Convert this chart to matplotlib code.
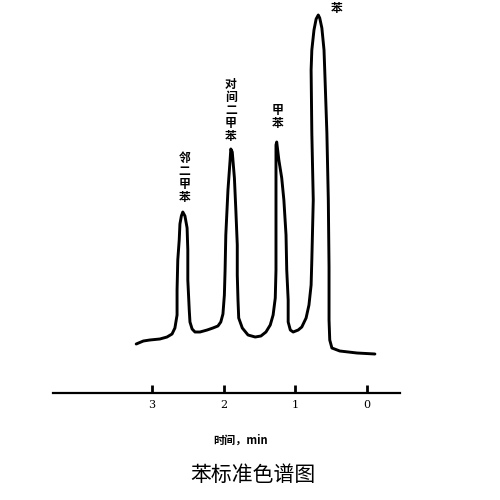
import matplotlib
matplotlib.use("Agg")
import matplotlib.pyplot as plt

plt.rcParams['font.family'] = ['Noto Sans CJK SC', 'DejaVu Sans']

# retention time (min) and detector signal (arbitrary units)
time_min = [3.22, 3.12, 3.03, 2.89, 2.79, 2.72, 2.68, 2.65, 2.65, 2.64,
            2.62, 2.61, 2.59, 2.57, 2.54, 2.51, 2.50, 2.50, 2.48, 2.47,
            2.44, 2.40, 2.33, 2.23, 2.15, 2.08, 2.04, 2.01, 1.99, 1.98,
            1.97, 1.94, 1.91, 1.90, 1.88, 1.85, 1.83, 1.81, 1.81, 1.80,
            1.79, 1.74, 1.66, 1.56, 1.48, 1.41, 1.35, 1.31, 1.28, 1.27,
            1.27, 1.27, 1.27, 1.26, 1.23, 1.19, 1.16, 1.13, 1.12, 1.10,
            1.10, 1.07, 1.03, 0.96, 0.91, 0.85, 0.81, 0.78, 0.77, 0.75,
            0.77, 0.78, 0.77, 0.74, 0.71, 0.68, 0.66, 0.63, 0.60, 0.59,
            0.56, 0.54, 0.53, 0.53, 0.52, 0.49, 0.38, 0.14, -0.11]
signal = [16, 19, 20, 21, 23, 26, 32, 45, 70, 100,
          120, 136, 144, 148, 144, 132, 110, 80, 50, 38,
          31, 28, 28, 30, 32, 34, 38, 46, 65, 90,
          125, 170, 200, 211, 208, 182, 150, 115, 85, 60,
          42, 32, 25, 23, 24, 28, 35, 45, 62, 90,
          140, 190, 215, 218, 200, 182, 160, 125, 90, 60,
          38, 30, 28, 30, 33, 42, 55, 75, 100, 160,
          227, 290, 310, 330, 341, 345, 342, 332, 310, 290,
          227, 160, 93, 40, 20, 12, 9, 7, 6]

# peaks: name, retention time, height
peak_names = ['邻二甲苯', '对间二甲苯', '甲苯', '苯']
peak_times = [2.57, 1.90, 1.26, 0.68]
peak_heights = [148, 211, 218, 345]

tick_values = [3, 2, 1, 0]
tick_labels = ['3', '2', '1', '0']

fig = plt.figure(figsize=(5, 5), dpi=100)
ax = fig.add_axes([0, 0, 1, 1])
ax.plot(time_min, signal, color='black', lw=2.1,
        solid_joinstyle='round', solid_capstyle='round')

ax.set_xlim(5.12, -1.855)
ax.set_ylim(-140, 360)

for s in ['left', 'right', 'top']:
    ax.spines[s].set_visible(False)
ax.spines['bottom'].set_position(('data', -33))
ax.spines['bottom'].set_bounds(4.38, -0.46)
ax.spines['bottom'].set_linewidth(1.6)
ax.set_yticks([])
ax.set_xticks(tick_values)
ax.set_xticklabels(tick_labels, family='DejaVu Serif', fontsize=8)
ax.tick_params(axis='x', direction='in', length=6, width=2, pad=5)

# vertical peak labels
offsets = [(1, 6), (0, 4), (0.5, 8.5), (13, 5)]
for name, t, h, off in zip(peak_names, peak_times, peak_heights, offsets):
    va = 'center' if len(name) == 1 else 'bottom'
    ax.annotate('\n'.join(name), xy=(t, h), xytext=off, textcoords='offset points',
                ha='center', va=va, fontsize=8.5, fontweight='bold', linespacing=1.0)

fig.text(0.482, 0.12, '时间，min', ha='center', va='center', fontsize=8, fontweight='bold')
fig.text(0.506, 0.05, '苯标准色谱图', ha='center', va='center', fontsize=15)

fig.savefig('out.png', dpi=100)
